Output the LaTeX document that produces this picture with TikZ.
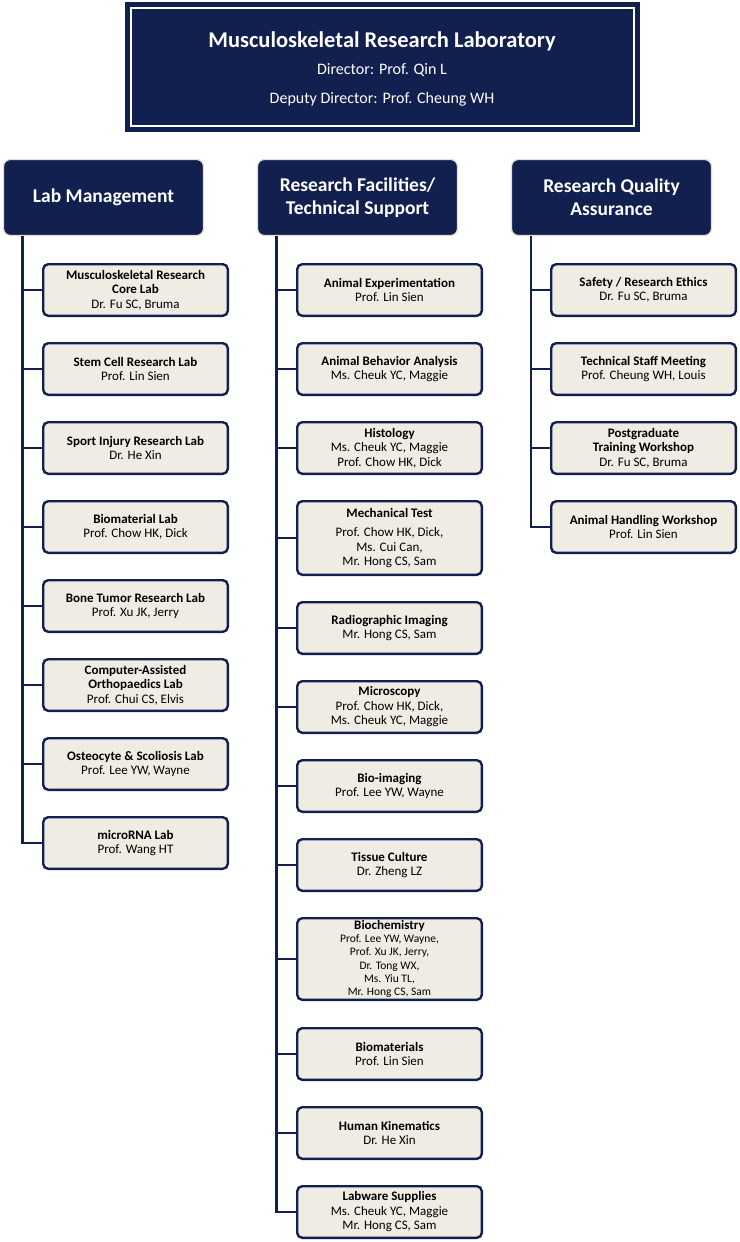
\documentclass[tikz,border=0pt]{standalone}
\usepackage{fontspec}
\setmainfont{Carlito}
\definecolor{navy}{RGB}{18,32,80}
\definecolor{beige}{RGB}{239,236,228}
\definecolor{hdrline}{RGB}{226,222,210}
\newcommand\unitbox[6][]{%
  \node[unit,minimum height={#5-#4-2.4},#1] (#2) at (#3,{(#4+#5)/2}) {#6};}
\begin{document}
\begin{tikzpicture}[x=1pt,y=-1pt,
  unit/.style={draw=navy,line width=2.4pt,fill=beige,rounded corners=5pt,
    minimum width=184.6pt,align=center,inner sep=0pt,
    font=\fontsize{13}{14.5}\selectfont},
  colhead/.style={draw=hdrline,line width=1.2pt,fill=navy,rounded corners=7pt,
    minimum width=200pt,minimum height=76pt,align=center,text=white,
    font=\bfseries\fontsize{19.5}{23}\selectfont},
  link/.style={draw=navy,line width=2.4pt},
  toptext/.style={text=white,inner sep=0pt}]
\useasboundingbox[fill=white] (0,0) rectangle (739,1242);

% top box
\node[fill=navy,minimum width=515pt,minimum height=130pt,inner sep=0pt] (top) at (382.5,67) {};
\draw[white,line width=2pt] ([xshift=6pt,yshift=-6pt]top.north west) rectangle ([xshift=-6pt,yshift=6pt]top.south east);
\node[toptext,font=\bfseries\fontsize{22.5}{26}\selectfont] (title) at (382,41.5) {Musculoskeletal Research Laboratory};
\node[toptext,font=\fontsize{16}{19}\selectfont] (dir) at (382,70.5) {Director: Prof. Qin L};
\node[toptext,font=\fontsize{16}{19}\selectfont] (dep) at (382,99) {Deputy Director: Prof. Cheung WH};

% column headers
\node[colhead] (lm) at (103.5,197.5) {Lab Management};
\node[colhead] (rf) at (357.5,197.5) {Research Facilities/\\Technical Support};
\node[colhead] (rq) at (611.5,197.5) {Research Quality\\Assurance};

% column 1
\unitbox{a1}{135.5}{263}{317}{\textbf{Musculoskeletal Research}\\\textbf{Core Lab}\\Dr. Fu SC, Bruma}
\unitbox{a2}{135.5}{342}{396}{\textbf{Stem Cell Research Lab}\\Prof. Lin Sien}
\unitbox{a3}{135.5}{421}{475}{\textbf{Sport Injury Research Lab}\\Dr. He Xin}
\unitbox{a4}{135.5}{500}{554}{\textbf{Biomaterial Lab}\\Prof. Chow HK, Dick}
\unitbox{a5}{135.5}{579}{633}{\textbf{Bone Tumor Research Lab}\\Prof. Xu JK, Jerry}
\unitbox{a6}{135.5}{658}{712}{\textbf{Computer-Assisted}\\\textbf{Orthopaedics Lab}\\Prof. Chui CS, Elvis}
\unitbox{a7}{135.5}{737}{791}{\textbf{Osteocyte \& Scoliosis Lab}\\Prof. Lee YW, Wayne}
\unitbox{a8}{135.5}{816}{870}{\textbf{microRNA Lab}\\Prof. Wang HT}

% column 2
\unitbox{b1}{389.5}{263}{317}{\textbf{Animal Experimentation}\\Prof. Lin Sien}
\unitbox{b2}{389.5}{342}{396}{\textbf{Animal Behavior Analysis}\\Ms. Cheuk YC, Maggie}
\unitbox{b3}{389.5}{421}{475}{\textbf{Histology}\\Ms. Cheuk YC, Maggie\\Prof. Chow HK, Dick}
\unitbox{b4}{389.5}{500}{576}{\textbf{Mechanical Test}\\[5pt]Prof. Chow HK, Dick,\\Ms. Cui Can,\\Mr. Hong CS, Sam}
\unitbox{b5}{389.5}{601}{655}{\textbf{Radiographic Imaging}\\Mr. Hong CS, Sam}
\unitbox{b6}{389.5}{680}{734}{\textbf{Microscopy}\\Prof. Chow HK, Dick,\\Ms. Cheuk YC, Maggie}
\unitbox{b7}{389.5}{759}{813}{\textbf{Bio-imaging}\\Prof. Lee YW, Wayne}
\unitbox{b8}{389.5}{838}{892}{\textbf{Tissue Culture}\\Dr. Zheng LZ}
\unitbox[font=\fontsize{11.5}{13.3}\selectfont]{b9}{389.5}{917}{1001}{{\fontsize{13}{13.3}\selectfont\bfseries Biochemistry}\\Prof. Lee YW, Wayne,\\Prof. Xu JK, Jerry,\\Dr. Tong WX,\\Ms. Yiu TL,\\Mr. Hong CS, Sam}
\unitbox{b10}{389.5}{1027}{1081}{\textbf{Biomaterials}\\Prof. Lin Sien}
\unitbox{b11}{389.5}{1106}{1160}{\textbf{Human Kinematics}\\Dr. He Xin}
\unitbox{b12}{389.5}{1185}{1239}{\textbf{Labware Supplies}\\Ms. Cheuk YC, Maggie\\Mr. Hong CS, Sam}

% column 3
\unitbox{c1}{643.5}{263}{317}{\textbf{Safety / Research Ethics}\\Dr. Fu SC, Bruma}
\unitbox{c2}{643.5}{342}{396}{\textbf{Technical Staff Meeting}\\Prof. Cheung WH, Louis}
\unitbox{c3}{643.5}{421}{475}{\textbf{Postgraduate}\\\textbf{Training Workshop}\\Dr. Fu SC, Bruma}
\unitbox{c4}{643.5}{500}{554}{\textbf{Animal Handling Workshop}\\Prof. Lin Sien}

% spines
\coordinate (s1) at ([xshift=19.7pt]lm.south west);
\coordinate (s2) at ([xshift=19.7pt]rf.south west);
\coordinate (s3) at ([xshift=20pt]rq.south west);
\draw[link] (s1) |- (a8.west);
\draw[link] (s2) |- (b12.west);
\draw[link] (s3) |- (c4.west);
\foreach \b in {a1,a2,a3,a4,a5,a6,a7}{\draw[link] (s1 |- \b.west) -- (\b.west);}
\foreach \b in {b1,b2,b3,b4,b5,b6,b7,b8,b9,b10,b11}{\draw[link] (s2 |- \b.west) -- (\b.west);}
\foreach \b in {c1,c2,c3}{\draw[link] (s3 |- \b.west) -- (\b.west);}
\end{tikzpicture}
\end{document}
